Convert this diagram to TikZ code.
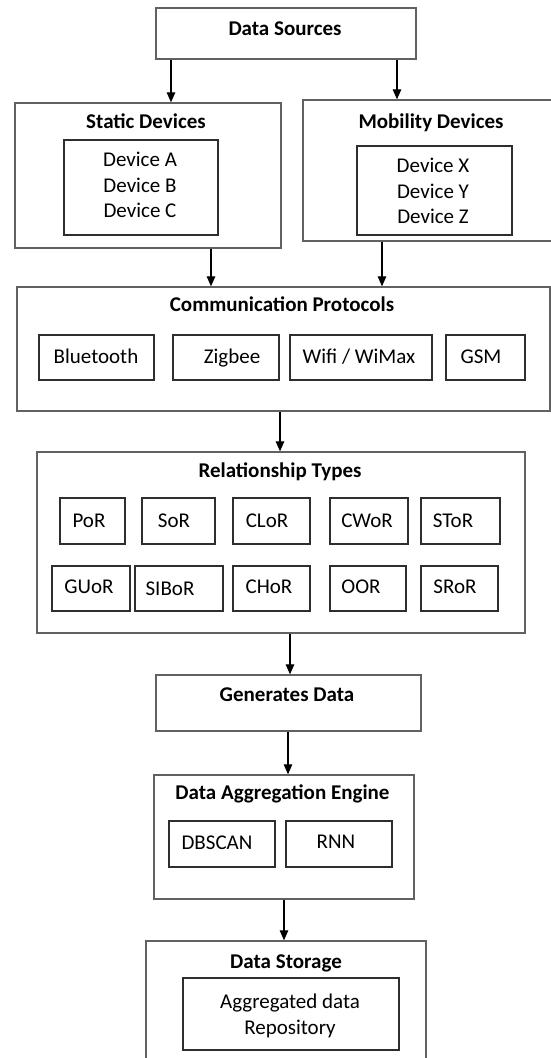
\documentclass[tikz,border=0pt]{standalone}
\usepackage{fontspec}
\setmainfont{Carlito}
\usetikzlibrary{arrows.meta,fit}
\tikzset{
  outer/.style={draw=black!62, line width=1.3pt, inner sep=0pt},
  ibox/.style={draw=black!82, line width=1.1pt, inner sep=0pt},
  ttl/.style={font=\fontsize{21}{25}\selectfont\bfseries, inner sep=0pt, text height=13.5pt, text depth=0pt},
  txt/.style={font=\fontsize{21}{25}\selectfont, inner sep=0pt, text height=13.5pt, text depth=0pt},
  arr/.style={line width=1.1pt, -{Triangle[length=10pt,width=8.5pt]}},
}
% a framed cell: name, corners (x1,y1) (x2,y2), text position, text
\newcommand\mkcell[8]{%
  \node[ibox, fit={(#2,#3) (#4,#5)}] (#1) {};
  \node[txt] (#1-t) at (#6,#7) {#8};}
\begin{document}
\begin{tikzpicture}[x=1pt,y=-1pt]
\useasboundingbox (0,0) rectangle (551,1058);
\fill[white] (0,0) rectangle (551,1058);
\clip (0,0) rectangle (551,1058);

% data sources
\node[outer, fit={(156,8) (416,59)}] (ds) {};
\node[ttl] (ds-t) at (285,29) {Data Sources};

% static devices
\node[outer, fit={(15,103) (281,248)}] (sd) {};
\node[ttl] (sd-t) at (146,122) {Static Devices};
\node[ibox, fit={(64,140) (218,235)}] (sdl) {};
\node[txt] (sda) at (140,160) {Device A};
\node[txt] (sdb) at (140,186) {Device B};
\node[txt] (sdc) at (140,211) {Device C};

% mobility devices
\node[outer, fit={(303,100) (562,241)}] (md) {};
\node[ttl] (md-t) at (431,122) {Mobility Devices};
\node[ibox, fit={(357,146) (512,235)}] (mdl) {};
\node[txt] (mdx) at (433,166) {Device X};
\node[txt] (mdy) at (433,192) {Device Y};
\node[txt] (mdz) at (433,217) {Device Z};

% communication protocols
\node[outer, fit={(17,287) (550,411)}] (cp) {};
\node[ttl] (cp-t) at (282,305) {Communication Protocols};
\mkcell{bt}{39}{335}{154}{380}{96}{357}{Bluetooth}
\mkcell{zb}{173}{335}{279}{380}{232}{357}{Zigbee}
\mkcell{wf}{290}{335}{432}{380}{359}{357}{Wifi / WiMax}
\mkcell{gsm}{446}{335}{525}{380}{481}{357}{GSM}

% relationship types
\node[outer, fit={(37,452) (525,633)}] (rt) {};
\node[ttl] (rt-t) at (280,471) {Relationship Types};
\mkcell{por}{60}{498}{125}{544}{89}{521}{PoR}
\mkcell{sor}{142}{498}{215}{544}{174}{521}{SoR}
\mkcell{clor}{233}{498}{310}{544}{267}{521}{CLoR}
\mkcell{cwor}{330}{498}{408}{544}{367}{521}{CWoR}
\mkcell{stor}{421}{498}{500}{544}{453}{521}{SToR}
\mkcell{guor}{52}{566}{130}{611}{89}{587}{GUoR}
\mkcell{sibor}{135}{566}{223}{611}{170}{589}{SIBoR}
\mkcell{chor}{233}{566}{310}{611}{269}{587}{CHoR}
\mkcell{oor}{330}{566}{406}{611}{361}{587}{OOR}
\mkcell{sror}{421}{566}{498}{611}{455}{587}{SRoR}

% generated data
\node[outer, fit={(156,675) (421,731)}] (gd) {};
\node[ttl] (gd-t) at (287,695) {Generates Data};

% aggregation engine
\node[outer, fit={(154,775) (414,899)}] (ag) {};
\node[ttl] (ag-t) at (282.5,793) {Data Aggregation Engine};
\mkcell{dbs}{169}{821}{275}{867}{217}{843}{DBSCAN}
\mkcell{rnn}{286}{821}{392}{867}{336}{842}{RNN}

% storage
\node[outer, fit={(146,941) (426,1080)}] (st) {};
\node[ttl] (st-t) at (286,962) {Data Storage};
\node[ibox, fit={(183,978) (399,1050)}] (rep) {};
\node[txt] (rep-a) at (290,1002) {Aggregated data};
\node[txt] (rep-b) at (290,1028) {Repository};

% flow
\draw[arr] (ds.south -| 171,0) -- (sd.north -| 171,0);
\draw[arr] (ds.south -| 397,0) -- (md.north -| 397,0);
\draw[arr] (sd.south -| 211,0) -- (cp.north -| 211,0);
\draw[arr] (md.south -| 382,0) -- (cp.north -| 382,0);
\draw[arr] (cp.south -| 280,0) -- (rt.north -| 280,0);
\draw[arr] (rt.south -| 290,0) -- (gd.north -| 290,0);
\draw[arr] (gd.south -| 288,0) -- (ag.north -| 288,0);
\draw[arr] (ag.south -| 284,0) -- (st.north -| 284,0);
\end{tikzpicture}
\end{document}
